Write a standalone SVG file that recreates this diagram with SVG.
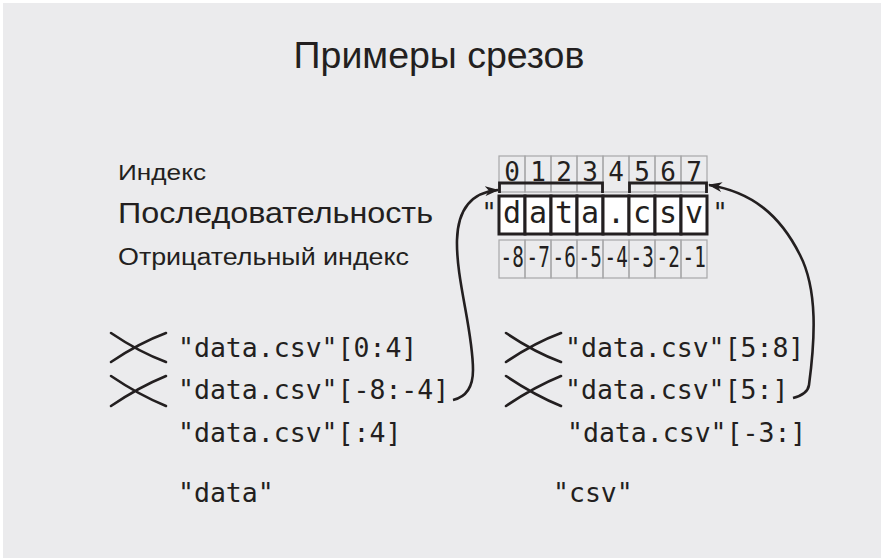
<svg xmlns="http://www.w3.org/2000/svg" width="881" height="558" viewBox="0 0 881 558">
<defs>
<style>
.lbl{font-family:"Liberation Sans",Arial,sans-serif;fill:#231f20}
.mono{font-family:"DejaVu Sans Mono","Liberation Mono",monospace;fill:#231f20}
.code{font-size:26.5px}
.neg{font-family:"DejaVu Sans Mono","Liberation Mono",monospace;fill:#231f20;font-size:28px}
.idx{fill:none;stroke:#a7a7a9;stroke-width:1.2}
.seq{fill:#fff;stroke:#231f20;stroke-width:3}
.brk{fill:none;stroke:#231f20;stroke-width:2.8}
.xm{fill:none;stroke:#231f20;stroke-width:2.6;stroke-linecap:round}
.arr{fill:none;stroke:#231f20;stroke-width:2.6}
</style>
<marker id="ah" viewBox="0 0 14 10" refX="13" refY="5" markerWidth="14" markerHeight="10" markerUnits="userSpaceOnUse" orient="auto">
<path d="M0,0 L14,5 L0,10 L4,5 z" fill="#231f20"/>
</marker>
</defs>
<rect x="0" y="0" width="881" height="558" fill="#fff"/>
<rect x="3" y="3" width="878" height="555" fill="#ebebed"/>
<g id="title"><text class="lbl" x="439" y="68" font-size="37.5" text-anchor="middle">Примеры срезов</text></g>
<g id="labels">
<text class="lbl" x="118" y="180" font-size="22" textLength="88" lengthAdjust="spacingAndGlyphs">Индекс</text>
<text class="lbl" x="118" y="223" font-size="30" textLength="315" lengthAdjust="spacingAndGlyphs">Последовательность</text>
<text class="lbl" x="118" y="265" font-size="23" textLength="291" lengthAdjust="spacingAndGlyphs">Отрицательный индекс</text>
</g>
<g id="index-row">
<rect class="idx" x="499" y="156" width="26" height="36"/><rect class="idx" x="525" y="156" width="26" height="36"/><rect class="idx" x="551" y="156" width="26" height="36"/><rect class="idx" x="577" y="156" width="26" height="36"/><rect class="idx" x="603" y="156" width="26" height="36"/><rect class="idx" x="629" y="156" width="26" height="36"/><rect class="idx" x="655" y="156" width="26" height="36"/><rect class="idx" x="681" y="156" width="26" height="36"/>
<g class="mono" font-size="26" text-anchor="middle">
<text x="512" y="181">0</text><text x="538" y="181">1</text><text x="564" y="181">2</text><text x="590" y="181">3</text><text x="616" y="181">4</text><text x="642" y="181">5</text><text x="668" y="181">6</text><text x="694" y="181">7</text>
</g>
</g>
<g id="brackets">
<path class="brk" d="M499.5 193 V183 H602.5 V193"/>
<path class="brk" d="M629.5 193 V183 H706.5 V193"/>
</g>
<g id="sequence">
<rect class="seq" x="499" y="196" width="26" height="38"/><rect class="seq" x="525" y="196" width="26" height="38"/><rect class="seq" x="551" y="196" width="26" height="38"/><rect class="seq" x="577" y="196" width="26" height="38"/><rect class="seq" x="603" y="196" width="26" height="38"/><rect class="seq" x="629" y="196" width="26" height="38"/><rect class="seq" x="655" y="196" width="26" height="38"/><rect class="seq" x="681" y="196" width="26" height="38"/>
<g class="mono" font-size="30" text-anchor="middle">
<text x="512" y="223">d</text><text x="538" y="223">a</text><text x="564" y="223">t</text><text x="590" y="223">a</text><text x="616" y="223">.</text><text x="642" y="223">c</text><text x="668" y="223">s</text><text x="694" y="223">v</text>
<text x="489" y="222" font-size="26">"</text><text x="720" y="222" font-size="26">"</text>
</g>
</g>
<g id="negative-row">
<rect class="idx" x="499" y="240" width="26" height="38"/><rect class="idx" x="525" y="240" width="26" height="38"/><rect class="idx" x="551" y="240" width="26" height="38"/><rect class="idx" x="577" y="240" width="26" height="38"/><rect class="idx" x="603" y="240" width="26" height="38"/><rect class="idx" x="629" y="240" width="26" height="38"/><rect class="idx" x="655" y="240" width="26" height="38"/><rect class="idx" x="681" y="240" width="26" height="38"/>
<text class="neg" transform="translate(500.5 267) scale(0.69 1)">-8</text>
<text class="neg" transform="translate(526.5 267) scale(0.69 1)">-7</text>
<text class="neg" transform="translate(552.5 267) scale(0.69 1)">-6</text>
<text class="neg" transform="translate(578.5 267) scale(0.69 1)">-5</text>
<text class="neg" transform="translate(604.5 267) scale(0.69 1)">-4</text>
<text class="neg" transform="translate(630.5 267) scale(0.69 1)">-3</text>
<text class="neg" transform="translate(656.5 267) scale(0.69 1)">-2</text>
<text class="neg" transform="translate(682.5 267) scale(0.69 1)">-1</text>
</g>
<g id="left-examples">
<path class="xm" d="M111 362 Q139 343 166 333 M111 333 Q139 352 166 362"/>
<path class="xm" d="M111 406 Q139 387 166 376 M111 376 Q139 395 166 406"/>
<text class="mono code" x="178" y="357">"data.csv"[0:4]</text>
<text class="mono code" x="178" y="399">"data.csv"[-8:-4]</text>
<text class="mono code" x="178" y="442">"data.csv"[:4]</text>
<text class="mono code" x="178" y="502">"data"</text>
</g>
<g id="right-examples">
<path class="xm" d="M506 362 Q534 343 561 333 M506 333 Q534 352 561 362"/>
<path class="xm" d="M506 406 Q534 387 561 376 M506 376 Q534 395 561 406"/>
<text class="mono code" x="565" y="357">"data.csv"[5:8]</text>
<text class="mono code" x="565" y="399">"data.csv"[5:]</text>
<text class="mono code" x="567" y="442">"data.csv"[-3:]</text>
<text class="mono code" x="553" y="502">"csv"</text>
</g>
<g id="connectors">
<path class="arr" marker-end="url(#ah)" d="M453 400 C466 397 473 388 473 370 C473 330 456 280 457 240 C458 205 475 192 498 190"/>
<path class="arr" marker-end="url(#ah)" d="M793 398 C801 396 808 392 809 385 C815 340 818 290 800 255 C780 215 752 192 709 185"/>
</g>
</svg>
